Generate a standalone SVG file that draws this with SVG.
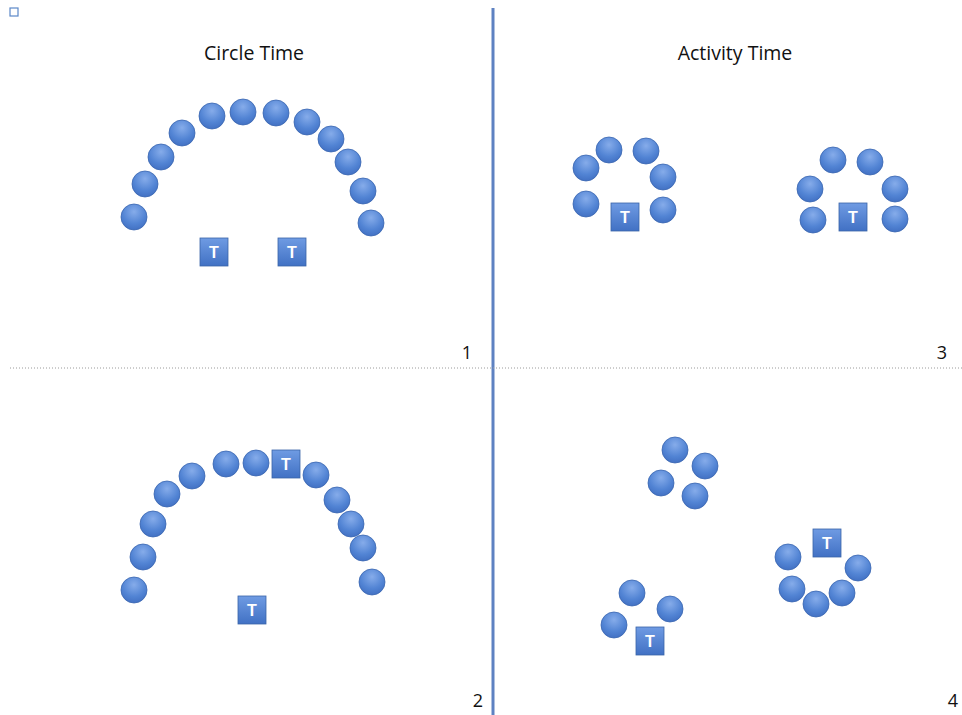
<svg xmlns="http://www.w3.org/2000/svg" width="962" height="715" viewBox="0 0 962 715">
<defs>
<radialGradient id="cg" cx="0.5" cy="0.3" r="0.75">
<stop offset="0" stop-color="#86acea"/>
<stop offset="0.6" stop-color="#5284d4"/>
<stop offset="1" stop-color="#3f6dc0"/>
</radialGradient>
<linearGradient id="tg" x1="0" y1="0" x2="0" y2="1">
<stop offset="0" stop-color="#6f9be3"/>
<stop offset="1" stop-color="#4171c4"/>
</linearGradient>
<g id="c"><circle r="13" fill="url(#cg)" stroke="#3a66b0" stroke-width="0.8"/></g>
<g id="t"><rect x="-14" y="-14" width="28" height="28" fill="url(#tg)" stroke="#3a64a8" stroke-width="0.8"/><text x="0" y="6" class="tl">T</text></g>
</defs>
<style>
.lbl{font-family:"Open Sans","Liberation Sans",sans-serif;font-size:19.5px;fill:#111;text-anchor:middle}
.num{font-family:"Open Sans","Liberation Sans",sans-serif;font-size:18px;fill:#111;text-anchor:middle}
.tl{font-family:"Liberation Sans",sans-serif;font-size:16px;font-weight:bold;fill:#fff;text-anchor:middle}
</style>
<rect width="962" height="715" fill="#fff"/>
<rect x="10" y="8" width="8" height="8" fill="none" stroke="#5b88c8" stroke-width="1.2"/>
<g id="connectors">
<line x1="493" y1="8" x2="493" y2="715" stroke="#5e82c2" stroke-width="3"/>
<line x1="10" y1="368" x2="962" y2="368" stroke="#9a9a9a" stroke-width="1" stroke-dasharray="1 2"/>
</g>
<g id="labels">
<text x="254" y="60" class="lbl">Circle Time</text>
<text x="735" y="60" class="lbl">Activity Time</text>
<text x="467" y="359" class="num">1</text>
<text x="942" y="359" class="num">3</text>
<text x="478" y="707" class="num">2</text>
<text x="953" y="707" class="num">4</text>
</g>
<g id="q1">
<use href="#c" x="134" y="217"/><use href="#c" x="145" y="184"/><use href="#c" x="161" y="157"/><use href="#c" x="182" y="133"/><use href="#c" x="212" y="116"/><use href="#c" x="243" y="112"/><use href="#c" x="276" y="113"/><use href="#c" x="307" y="122"/><use href="#c" x="331" y="139"/><use href="#c" x="348" y="162"/><use href="#c" x="363" y="191"/><use href="#c" x="371" y="223"/>
<use href="#t" x="214" y="252"/><use href="#t" x="292" y="252"/>
</g>
<g id="q2">
<use href="#c" x="134" y="590"/><use href="#c" x="143" y="557"/><use href="#c" x="153" y="524"/><use href="#c" x="167" y="494"/><use href="#c" x="192" y="476"/><use href="#c" x="226" y="464"/><use href="#c" x="256" y="463"/><use href="#c" x="316" y="475"/><use href="#c" x="337" y="500"/><use href="#c" x="351" y="524"/><use href="#c" x="363" y="548"/><use href="#c" x="372" y="582"/>
<use href="#t" x="286" y="464"/><use href="#t" x="252" y="610"/>
</g>
<g id="q3">
<use href="#c" x="586" y="168"/><use href="#c" x="609" y="150"/><use href="#c" x="646" y="151"/><use href="#c" x="663" y="177"/><use href="#c" x="586" y="204"/><use href="#c" x="663" y="210"/>
<use href="#t" x="625" y="217"/>
<use href="#c" x="833" y="160"/><use href="#c" x="870" y="162"/><use href="#c" x="810" y="189"/><use href="#c" x="895" y="189"/><use href="#c" x="813" y="220"/><use href="#c" x="895" y="219"/>
<use href="#t" x="853" y="217"/>
</g>
<g id="q4">
<use href="#c" x="675" y="450"/><use href="#c" x="705" y="466"/><use href="#c" x="661" y="483"/><use href="#c" x="695" y="496"/>
<use href="#c" x="788" y="557"/><use href="#c" x="858" y="568"/><use href="#c" x="792" y="589"/><use href="#c" x="842" y="593"/><use href="#c" x="816" y="604"/>
<use href="#t" x="827" y="543"/>
<use href="#c" x="632" y="593"/><use href="#c" x="670" y="609"/><use href="#c" x="614" y="625"/>
<use href="#t" x="650" y="641"/>
</g>
</svg>
